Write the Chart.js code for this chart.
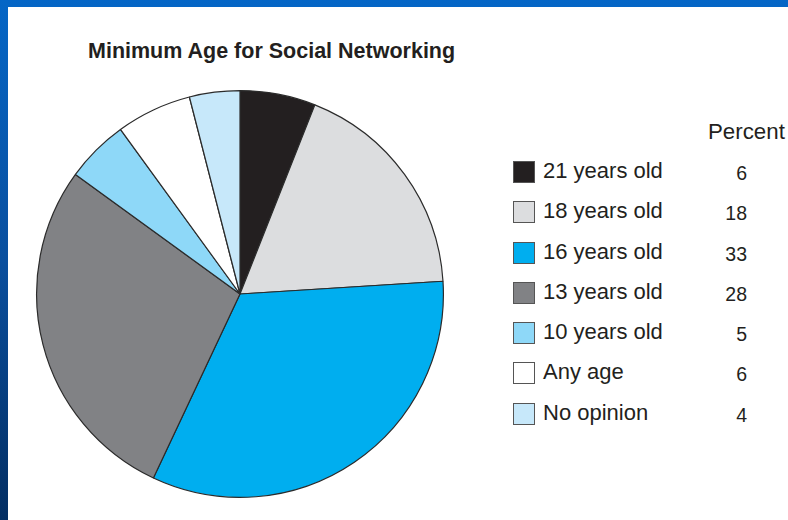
<!DOCTYPE html>
<html>
<head>
<meta charset="utf-8">
<script src="https://cdn.jsdelivr.net/npm/chart.js@4.4.0/dist/chart.umd.min.js"></script>
<style>
  html, body {
    margin: 0;
    padding: 0;
  }
  body {
    width: 788px;
    height: 520px;
    overflow: hidden;
    position: relative;
    background: linear-gradient(to bottom, #0566c6 0%, #0a4f9e 50%, #032e62 100%);
    font-family: 'Liberation Sans', Arial, sans-serif;
  }
  #panel {
    position: absolute;
    left: 8px;
    top: 7px;
    width: 780px;
    height: 513px;
    background: #fff;
  }
  #title {
    position: absolute;
    left: 88px;
    top: 39px;
    font-size: 21.5px;
    font-weight: bold;
    color: #231f20;
    white-space: nowrap;
  }
  #pieWrap {
    position: absolute;
    left: 34px;
    top: 88px;
    width: 412px;
    height: 412px;
  }
  #percentHead {
    position: absolute;
    left: 708px;
    top: 119px;
    font-size: 22.3px;
    color: #231f20;
  }
  #customLegend {
    position: absolute;
    left: 513px;
    top: 160px;
  }
  .row {
    position: relative;
    height: 40.3px;
    width: 240px;
  }
  .box {
    position: absolute;
    left: 0;
    top: 1px;
    width: 20px;
    height: 20px;
    border: 1px solid #555;
  }
  .lbl {
    position: absolute;
    left: 30px;
    top: -2px;
    font-size: 22px;
    color: #231f20;
    white-space: nowrap;
  }
  .val {
    position: absolute;
    right: 6px;
    width: 40px;
    top: 0px;
    font-size: 19.5px;
    color: #231f20;
    text-align: right;
    line-height: 26px;
  }
</style>
</head>
<body>
<div id="panel"></div>
<div id="title">Minimum Age for Social Networking</div>
<div id="pieWrap"><canvas id="ageChart" width="412" height="412"></canvas></div>
<div id="percentHead">Percent</div>
<div id="customLegend"></div>
<script>
// Категории и значения
const categories = ['21 years old', '18 years old', '16 years old', '13 years old', '10 years old', 'Any age', 'No opinion'];
const percents = [6, 18, 33, 28, 5, 6, 4];
const sliceColors = ['#231f20', '#dcdddf', '#00aeef', '#818285', '#8ed8f8', '#ffffff', '#c7e8fa'];

const ctx = document.getElementById('ageChart').getContext('2d');

new Chart(ctx, {
  type: 'pie',
  data: {
    labels: categories,
    datasets: [
      {
        data: percents,
        backgroundColor: sliceColors,
        borderColor: '#2b2b2b',
        borderWidth: 1.2,
        hoverOffset: 0,
      },
    ],
  },
  options: {
    responsive: false,
    animation: false,
    layout: { padding: 2 },
    plugins: {
      legend: { display: false },
      tooltip: { enabled: false },
    },
  },
});

// Легенда с колонкой процентов
const customLegend = document.getElementById('customLegend');
categories.forEach((name, index) => {
  const row = document.createElement('div');
  row.className = 'row';

  const box = document.createElement('span');
  box.className = 'box';
  box.style.backgroundColor = sliceColors[index];

  const label = document.createElement('span');
  label.className = 'lbl';
  label.textContent = name;

  const value = document.createElement('span');
  value.className = 'val';
  value.textContent = percents[index];

  row.appendChild(box);
  row.appendChild(label);
  row.appendChild(value);
  customLegend.appendChild(row);
});
</script>
</body>
</html>
